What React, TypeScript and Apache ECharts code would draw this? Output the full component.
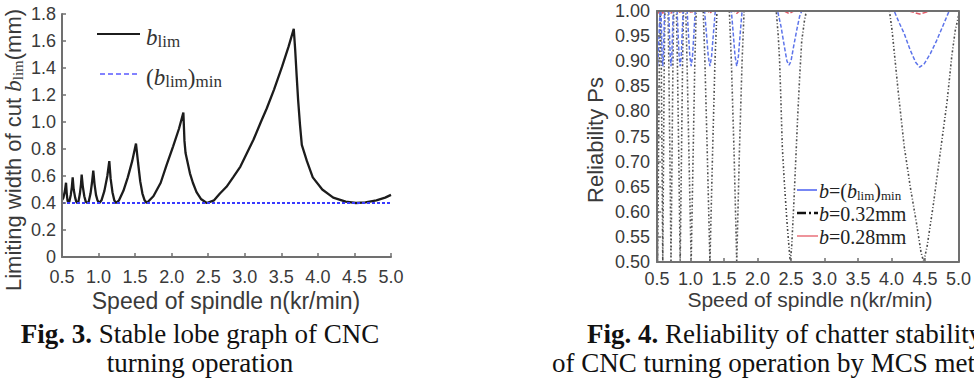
import React, { useEffect, useRef } from "react";
import * as echarts from "echarts";

// Spindle speed range shared by both plots (kr/min)
const speedMin = 0.5;
const speedMax = 5.0;
const speedStep = 0.5;

// Fig. 3: stability lobe boundary, [speed kr/min, limiting width of cut mm]
const blimLobes: [number, number][] = [
  [0.5, 0.42], [0.52, 0.44], [0.54, 0.49], [0.555, 0.55], [0.565, 0.47], [0.575, 0.42], [0.586, 0.4],
  [0.6, 0.41], [0.62, 0.46], [0.635, 0.52], [0.646, 0.59], [0.66, 0.5], [0.68, 0.44], [0.695, 0.41], [0.709, 0.4],
  [0.725, 0.41], [0.745, 0.47], [0.76, 0.54], [0.769, 0.61], [0.785, 0.52], [0.805, 0.45], [0.825, 0.41], [0.846, 0.4],
  [0.865, 0.41], [0.89, 0.47], [0.91, 0.55], [0.928, 0.64], [0.945, 0.54], [0.965, 0.46], [0.985, 0.42], [1.01, 0.4],
  [1.04, 0.42], [1.08, 0.49], [1.12, 0.6], [1.147, 0.71], [1.165, 0.58], [1.19, 0.48], [1.215, 0.42], [1.24, 0.4],
  [1.28, 0.42], [1.34, 0.49], [1.4, 0.59], [1.46, 0.71], [1.512, 0.84], [1.54, 0.7], [1.57, 0.56], [1.6, 0.47], [1.63, 0.42], [1.66, 0.4],
  [1.75, 0.45], [1.85, 0.55], [1.93, 0.68], [2.02, 0.82], [2.1, 0.95], [2.16, 1.07], [2.175, 0.86], [2.19, 0.77],
  [2.21, 0.72], [2.25, 0.62], [2.29, 0.55], [2.34, 0.48], [2.4, 0.43], [2.48, 0.4],
  [2.58, 0.42], [2.66, 0.47], [2.75, 0.52], [2.84, 0.59], [2.94, 0.67], [3.03, 0.77], [3.12, 0.87], [3.22, 1.0],
  [3.3, 1.1], [3.4, 1.24], [3.51, 1.41], [3.6, 1.56], [3.67, 1.69],
  [3.69, 1.53], [3.71, 1.34], [3.73, 1.16], [3.755, 0.98], [3.78, 0.83], [3.85, 0.71], [3.93, 0.59], [4.06, 0.5],
  [4.21, 0.44], [4.38, 0.41], [4.52, 0.4], [4.65, 0.405], [4.8, 0.42], [4.92, 0.44], [5.0, 0.46],
];
// Minimum of the lobe boundary, (b_lim)_min in mm
const blimMin = 0.4;

// Fig. 4: reliability Ps against spindle speed for three widths of cut
const reliabilityBlimMin: [number, number][] = [
  [0.5, 0.92], [0.51, 0.89], [0.522, 0.92], [0.535, 0.97], [0.545, 1.0],
  [0.56, 1.0], [0.568, 0.96], [0.576, 0.91], [0.586, 0.89], [0.596, 0.91], [0.605, 0.96], [0.613, 1.0],
  [0.675, 1.0], [0.685, 0.96], [0.697, 0.91], [0.709, 0.89], [0.721, 0.91], [0.732, 0.96], [0.742, 1.0],
  [0.8, 1.0], [0.813, 0.96], [0.83, 0.91], [0.846, 0.89], [0.862, 0.91], [0.877, 0.96], [0.89, 1.0],
  [0.95, 1.0], [0.967, 0.96], [0.99, 0.91], [1.01, 0.89], [1.03, 0.91], [1.053, 0.96], [1.07, 1.0],
  [1.21, 1.0], [1.235, 0.96], [1.265, 0.91], [1.29, 0.89], [1.315, 0.91], [1.345, 0.96], [1.37, 1.0],
  [1.61, 1.0], [1.635, 0.96], [1.665, 0.91], [1.69, 0.89], [1.715, 0.91], [1.745, 0.96], [1.77, 1.0],
  [2.3, 1.0], [2.35, 0.97], [2.4, 0.93], [2.44, 0.9], [2.47, 0.892], [2.5, 0.9], [2.54, 0.93], [2.59, 0.965], [2.63, 0.99], [2.66, 1.0],
  [4.04, 1.0], [4.12, 0.975], [4.19, 0.955], [4.28, 0.922], [4.36, 0.898], [4.42, 0.888], [4.49, 0.895],
  [4.58, 0.915], [4.67, 0.94], [4.76, 0.968], [4.86, 1.0], [5.0, 1.0],
];

const reliability032: [number, number][] = [
  [0.5, 0.64], [0.51, 0.5], [0.522, 0.7], [0.535, 0.9], [0.548, 1.0],
  [0.556, 1.0], [0.564, 0.9], [0.574, 0.72], [0.586, 0.5], [0.598, 0.72], [0.608, 0.9], [0.618, 1.0],
  [0.665, 1.0], [0.676, 0.9], [0.692, 0.72], [0.709, 0.5], [0.725, 0.72], [0.738, 0.9], [0.75, 1.0],
  [0.79, 1.0], [0.804, 0.9], [0.824, 0.72], [0.846, 0.5], [0.866, 0.72], [0.882, 0.9], [0.895, 1.0],
  [0.93, 1.0], [0.948, 0.9], [0.976, 0.72], [1.01, 0.5], [1.04, 0.72], [1.065, 0.9], [1.085, 1.0],
  [1.19, 1.0], [1.215, 0.9], [1.25, 0.72], [1.29, 0.5], [1.33, 0.72], [1.365, 0.9], [1.395, 1.0],
  [1.58, 1.0], [1.61, 0.9], [1.65, 0.72], [1.69, 0.5], [1.73, 0.72], [1.77, 0.9], [1.8, 1.0],
  [2.28, 1.0], [2.31, 0.95], [2.33, 0.9], [2.35, 0.82], [2.37, 0.73], [2.4, 0.66], [2.44, 0.58], [2.47, 0.53],
  [2.49, 0.5], [2.51, 0.53], [2.54, 0.61], [2.57, 0.7], [2.6, 0.79], [2.63, 0.87], [2.66, 0.94], [2.7, 0.98], [2.73, 1.0],
  [3.97, 1.0], [4.01, 0.96], [4.04, 0.92], [4.1, 0.84], [4.19, 0.73], [4.28, 0.65], [4.37, 0.58], [4.44, 0.52],
  [4.48, 0.5], [4.53, 0.53], [4.62, 0.61], [4.75, 0.74], [4.83, 0.82], [4.9, 0.91], [4.95, 0.96], [5.0, 0.99],
];

const reliability028: [number, number][] = [
  [0.5, 0.997], [0.51, 0.995], [0.52, 0.997], [0.54, 1.0], [0.575, 1.0], [0.586, 0.995], [0.597, 1.0],
  [0.695, 1.0], [0.709, 0.995], [0.723, 1.0], [0.83, 1.0], [0.846, 0.995], [0.862, 1.0],
  [0.99, 1.0], [1.01, 0.995], [1.03, 1.0], [1.26, 1.0], [1.29, 0.995], [1.32, 1.0],
  [1.65, 1.0], [1.69, 0.995], [1.73, 1.0], [2.4, 1.0], [2.47, 0.995], [2.54, 1.0],
  [4.26, 1.0], [4.42, 0.994], [4.58, 1.0], [5.0, 1.0],
];

const fig3Caption = ["Fig. 3.", " Stable lobe graph of CNC", "turning operation"];
const fig4Caption = ["Fig. 4.", " Reliability of chatter stability", "of CNC turning operation by MCS method"];
const speedTitle = "Speed of spindle n(kr/min)";

const SANS = "Liberation Sans";
const SERIF = "Liberation Serif";
const INK = "#3a3a3a";
const AXIS = "#707070";

const tickFont = { fontFamily: SANS, fontSize: 18, color: INK };

function speedAxis(gridIndex: number, margin: number) {
  return {
    gridIndex,
    type: "value",
    min: speedMin,
    max: speedMax,
    interval: speedStep,
    z: 5,
    axisLine: { onZero: false, lineStyle: { color: AXIS, width: 2 } },
    axisTick: { inside: true, length: 4, lineStyle: { color: AXIS, width: 1.5 } },
    axisLabel: { ...tickFont, margin, formatter: (v: number) => v.toFixed(1) },
    splitLine: { show: false },
  };
}

function frameAxis(gridIndex: number, min: number, max: number, position: string) {
  return {
    gridIndex,
    type: "value",
    position,
    min,
    max,
    z: 5,
    axisLine: { show: true, onZero: false, lineStyle: { color: AXIS, width: 2 } },
    axisTick: { show: false },
    axisLabel: { show: false },
    splitLine: { show: false },
  };
}

function text(x: number, y: number, str: string, rich: any, extra: any = {}) {
  const { align = "left", rotation = 0, fontSize = 20, fontFamily = SERIF, fill = "#222" } = extra;
  return {
    type: "text",
    x,
    y,
    rotation,
    z: 20,
    style: {
      text: str,
      rich,
      fontSize,
      fontFamily,
      fill,
      align,
      textAlign: align,
      verticalAlign: "middle",
      textVerticalAlign: "middle",
    },
  };
}

function hLine(x1: number, x2: number, y: number, stroke: string, lineWidth: number, lineDash?: number[]) {
  return {
    type: "line",
    z: 20,
    shape: { x1, y1: y, x2, y2: y },
    style: { stroke, lineWidth, lineDash },
  };
}

function buildOption() {
  const legendRichL = {
    b: { fontFamily: SERIF, fontStyle: "italic", fontSize: 23, lineHeight: 26, fill: "#333" },
    p: { fontFamily: SERIF, fontSize: 23, lineHeight: 26, fill: "#333" },
    s: { fontFamily: SERIF, fontSize: 17, lineHeight: 10, verticalAlign: "bottom", fill: "#333" },
  };
  const legendRichR = {
    b: { fontFamily: SERIF, fontStyle: "italic", fontSize: 20, lineHeight: 22, fill: "#222" },
    p: { fontFamily: SERIF, fontSize: 20, lineHeight: 22, fill: "#222" },
    s: { fontFamily: SERIF, fontSize: 13, lineHeight: 9, verticalAlign: "bottom", fill: "#222" },
  };
  const captionRich = {
    b: { fontFamily: SERIF, fontWeight: "bold", fontSize: 27, fill: "#111" },
    r: { fontFamily: SERIF, fontSize: 27, fill: "#111" },
  };
  const yNameRich = {
    t: { fontFamily: SANS, fontSize: 22, lineHeight: 25, fill: INK },
    b: { fontFamily: SERIF, fontStyle: "italic", fontSize: 23, lineHeight: 25, fill: INK },
    s: { fontFamily: SERIF, fontSize: 15, lineHeight: 10, verticalAlign: "bottom", fill: INK },
  };

  return {
    animation: false,
    backgroundColor: "#ffffff",
    grid: [
      { left: 62, top: 14, width: 329, height: 243 },
      { left: 657, top: 11, width: 305, height: 251 },
    ],
    xAxis: [
      speedAxis(0, 11),
      speedAxis(1, 8),
      frameAxis(1, speedMin, speedMax, "top"),
    ],
    yAxis: [
      {
        gridIndex: 0,
        type: "value",
        min: 0,
        max: 1.8,
        interval: 0.2,
        z: 5,
        axisLine: { show: true, onZero: false, lineStyle: { color: AXIS, width: 2 } },
        axisTick: { show: true, inside: true, length: 4, lineStyle: { color: AXIS, width: 1.5 } },
        axisLabel: { ...tickFont, margin: 6, formatter: (v: number) => (v === 0 ? "0" : v.toFixed(1)) },
        splitLine: { show: false },
      },
      {
        gridIndex: 1,
        type: "value",
        min: 0.5,
        max: 1.0,
        interval: 0.05,
        z: 5,
        axisLine: { show: true, onZero: false, lineStyle: { color: AXIS, width: 2 } },
        axisTick: { show: true, inside: true, length: 4, lineStyle: { color: AXIS, width: 1.5 } },
        axisLabel: { ...tickFont, margin: 7, formatter: (v: number) => v.toFixed(2) },
        splitLine: { show: false },
      },
      frameAxis(1, 0.5, 1.0, "right"),
    ],
    series: [
      {
        name: "blim",
        type: "line",
        xAxisIndex: 0,
        yAxisIndex: 0,
        data: blimLobes,
        symbol: "none",
        lineStyle: { color: "#1c1c1c", width: 2.3 },
        z: 2,
      },
      {
        name: "blimMin",
        type: "line",
        xAxisIndex: 0,
        yAxisIndex: 0,
        data: [[speedMin, blimMin], [speedMax, blimMin]],
        symbol: "none",
        lineStyle: { color: "#3a3aff", width: 2.2, type: [3, 2] },
        z: 3,
      },
      {
        name: "b=0.32mm",
        type: "line",
        xAxisIndex: 1,
        yAxisIndex: 1,
        data: reliability032,
        symbol: "none",
        lineStyle: { color: "#4c4c4c", width: 1.6, type: [2, 2, 1, 2] },
        z: 2,
      },
      {
        name: "b=(blim)min",
        type: "line",
        xAxisIndex: 1,
        yAxisIndex: 1,
        data: reliabilityBlimMin,
        symbol: "none",
        lineStyle: { color: "#5d74ea", width: 1.5, type: [4, 2] },
        z: 3,
      },
      {
        name: "b=0.28mm",
        type: "line",
        xAxisIndex: 1,
        yAxisIndex: 1,
        data: reliability028,
        symbol: "none",
        lineStyle: { color: "#e25a68", width: 1.5, type: [5, 2] },
        z: 3,
      },
    ],
    graphic: {
      elements: [
        // Fig. 3 axis titles
        text(13, 150, "{t|Limiting width of cut }{b|b}{s|lim}{t|(mm)}", yNameRich, {
          align: "center",
          rotation: Math.PI / 2,
          fontFamily: SANS,
          fontSize: 22,
          fill: INK,
        }),
        text(226, 301, speedTitle, undefined, { align: "center", fontFamily: SANS, fontSize: 23, fill: INK }),
        // Fig. 3 legend
        hLine(97, 140, 34, "#1c1c1c", 2),
        text(146, 37, "{b|b}{s|lim}", legendRichL),
        hLine(100, 140, 74, "#5a5aff", 1.5, [5, 3]),
        text(146, 77, "{p|(}{b|b}{s|lim}{p|)}{s|min}", legendRichL),
        // Fig. 4 axis titles
        text(595, 140, "Reliability Ps", undefined, {
          align: "center",
          rotation: Math.PI / 2,
          fontFamily: SANS,
          fontSize: 22,
          fill: INK,
        }),
        text(810, 299, speedTitle, undefined, { align: "center", fontFamily: SANS, fontSize: 21, fill: INK }),
        // Fig. 4 legend
        hLine(797, 817, 190, "#4a5ff0", 1.5),
        text(819, 191, "{b|b}{p|=(}{b|b}{s|lim}{p|)}{s|min}", legendRichR),
        hLine(797, 818, 213, "#111111", 2.5, [9, 3, 2, 3]),
        text(819, 214, "{b|b}{p|=0.32mm}", legendRichR),
        hLine(797, 818, 236, "#e8707a", 1.5),
        text(819, 237, "{b|b}{p|=0.28mm}", legendRichR),
        // Captions
        text(200, 334, `{b|${fig3Caption[0]}}{r|${fig3Caption[1]}}`, captionRich, { align: "center", fontSize: 27 }),
        text(200, 363, fig3Caption[2], undefined, { align: "center", fontSize: 27, fill: "#111" }),
        text(587, 334, `{b|${fig4Caption[0]}}{r|${fig4Caption[1]}}`, captionRich, { fontSize: 27 }),
        text(552, 363, fig4Caption[2], undefined, { fontSize: 27, fill: "#111" }),
      ],
    },
  };
}

export default function App() {
  const ref = useRef<HTMLDivElement>(null);
  useEffect(() => {
    if (!ref.current) return;
    const chart = echarts.init(ref.current, undefined, { renderer: "svg" });
    chart.setOption(buildOption() as any);
    return () => chart.dispose();
  }, []);
  return (
    <div
      style={{
        position: "fixed",
        left: 0,
        top: 0,
        width: 974,
        height: 384,
        background: "#fff",
        overflow: "hidden",
      }}
    >
      <div ref={ref} style={{ width: 974, height: 384 }} />
    </div>
  );
}
